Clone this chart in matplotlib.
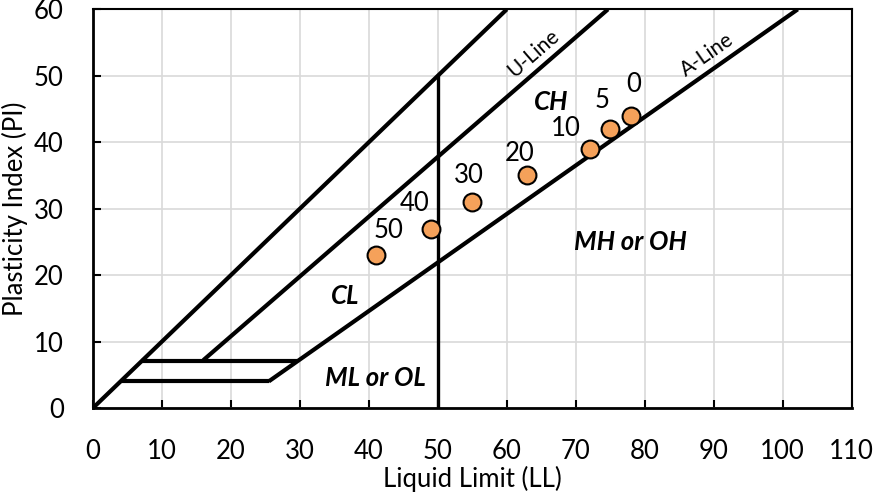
import numpy as np
import matplotlib
matplotlib.use("Agg")
import matplotlib.pyplot as plt

plt.rcParams['font.family'] = ['Lato', 'DejaVu Sans']

# dados dos pontos (LL, PI) e rótulos
ll_pts = [78, 75, 72, 63, 55, 49, 41]
pi_pts = [44, 42, 39, 35, 31, 27, 23]
rotulos = ["0", "5", "10", "20", "30", "40", "50"]
# deslocamento dos rótulos (pixels)
desloc = [(3, 31), (-8, 28), (-24, 20), (-8, 22), (-3, 27), (-16, 25), (13, 25)]

# linhas da carta de plasticidade
u_ll = [16, 74.67]
u_pi = [7.2, 60]
a_ll = [25.48, 102.19]
a_pi = [4, 60]
diag_ll = [0, 60]
diag_pi = [0, 60]
vert_ll = [50, 50]
vert_pi = [0, 50]
h4_ll = [4, 25.48]
h4_pi = [4, 4]
h7_ll = [7, 29.59]
h7_pi = [7, 7]

fs = 18.5

fig = plt.figure(figsize=(8.73, 4.94), dpi=100)
ax = fig.add_axes([0.1065, 0.1741, 0.869, 0.807])

lw = 3
for xs, ys in [(diag_ll, diag_pi), (u_ll, u_pi), (a_ll, a_pi), (h4_ll, h4_pi), (h7_ll, h7_pi)]:
    ax.plot(xs, ys, color="black", lw=lw, solid_capstyle="butt", zorder=3)
ax.plot(vert_ll, vert_pi, color="black", lw=2.4, zorder=3)

ax.scatter(ll_pts, pi_pts, s=165, facecolor="#F5A15A", edgecolor="black", linewidth=1.5, zorder=5)
for x, y, t, (dx, dy) in zip(ll_pts, pi_pts, rotulos, desloc):
    ax.annotate(t, (x, y), xytext=(dx, dy), textcoords="offset pixels",
                ha="center", va="center", fontsize=fs, zorder=6)

# textos das zonas
ax.text(63.8, 53.4, "U-Line", rotation=41, ha="center", va="center", fontsize=15)
ax.text(89.1, 53.1, "A-Line", rotation=35, ha="center", va="center", fontsize=15)
zonas = {"CH": (66.5, 46), "CL": (36.5, 16.9), "MH or OH": (77.9, 25), "ML or OL": (41, 4.5)}
for t, (x, y) in zonas.items():
    ax.text(x, y, t, ha="center", va="center", fontsize=fs, fontweight="bold", style="italic")

ax.set_xlim(0, 110)
ax.set_ylim(0, 60)
ax.set_xticks(np.arange(0, 111, 10))
ax.set_yticks(np.arange(0, 61, 10))
ax.grid(color="#D9D9D9", lw=1.2)
ax.set_axisbelow(True)
ax.tick_params(direction="in", length=6, width=1.5, labelsize=fs)
ax.tick_params(axis="x", pad=22)
ax.tick_params(axis="y", pad=21)
for s in ["left", "bottom"]:
    ax.spines[s].set_linewidth(2)
for s in ["top", "right"]:
    ax.spines[s].set_linewidth(1.5)
ax.set_xlabel("Liquid Limit (LL)", fontsize=fs, labelpad=2)
ax.set_ylabel("Plasticity Index (PI)", fontsize=fs, labelpad=4)

fig.savefig("out.png", dpi=100)
